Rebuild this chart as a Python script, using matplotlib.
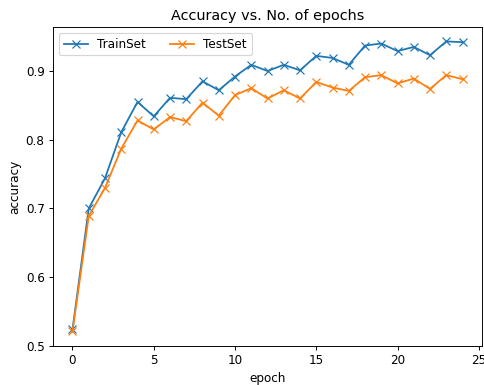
import matplotlib
matplotlib.use("Agg")
import matplotlib.pyplot as plt

epochs = list(range(25))
train_acc = [0.524, 0.700, 0.744, 0.811, 0.855, 0.834, 0.861, 0.859, 0.885, 0.872,
             0.892, 0.909, 0.900, 0.909, 0.901, 0.922, 0.919, 0.909, 0.937, 0.940,
             0.929, 0.935, 0.923, 0.943, 0.942]
test_acc = [0.521, 0.689, 0.730, 0.787, 0.828, 0.815, 0.833, 0.827, 0.854, 0.835,
            0.865, 0.875, 0.860, 0.872, 0.860, 0.884, 0.876, 0.871, 0.891, 0.894,
            0.882, 0.889, 0.874, 0.894, 0.888]

dpi = 86
fig = plt.figure(figsize=(484 / dpi, 385 / dpi), dpi=dpi)
ax = fig.add_axes([0.1095, 0.1013, 0.8864, 0.8287])
ax.plot(epochs, train_acc, "-x", label="TrainSet")
ax.plot(epochs, test_acc, "-x", label="TestSet")
ax.set_xlabel("epoch")
ax.set_ylabel("accuracy")
ax.set_title("Accuracy vs. No. of epochs")
ax.legend(ncol=2, loc="upper left")
fig.savefig("out.png", dpi=dpi)
